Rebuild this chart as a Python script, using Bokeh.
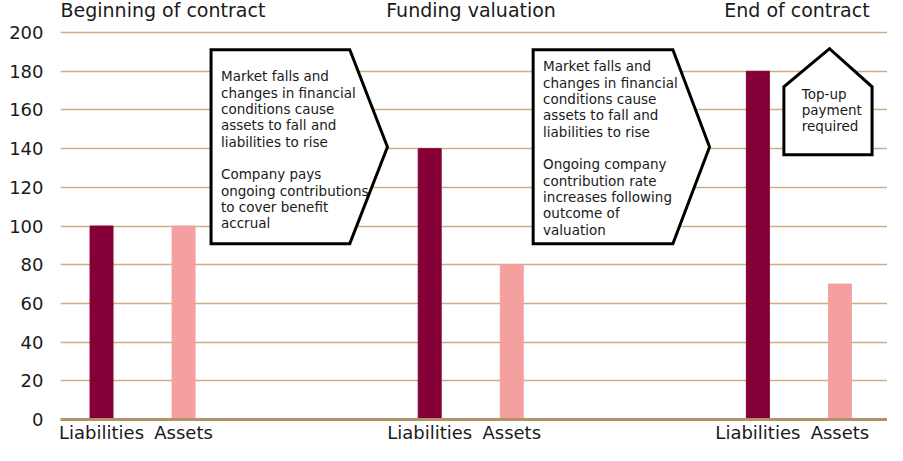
from bokeh.plotting import figure
from bokeh.models import FixedTicker, Range1d
from bokeh.core.properties import value
from bokeh.embed import file_html
from bokeh.resources import INLINE

# ---------------- data ----------------
stages = ["Beginning of contract", "Funding valuation", "End of contract"]
categories = ["Liabilities", "Assets"]
liabilities = [100, 140, 180]
assets = [100, 80, 70]
y_ticks = [0, 20, 40, 60, 80, 100, 120, 140, 160, 180, 200]

note1 = ("Market falls and\nchanges in financial\nconditions cause\nassets to fall and\n"
         "liabilities to rise\n \nCompany pays\nongoing contributions\nto cover benefit\naccrual")
note2 = ("Market falls and\nchanges in financial\nconditions cause\nassets to fall and\n"
         "liabilities to rise\n \nOngoing company\ncontribution rate\nincreases following\n"
         "outcome of\nvaluation")
note3 = "Top-up\npayment\nrequired"

# ---------------- styling / layout ----------------
FONT = "DejaVu Sans"
TEXT = "#1a1a1a"
LIAB_COLOR = "#850038"
ASSET_COLOR = "#F4A0A0"
GRID = "#CDAE80"
AXIS = "#B39266"
group_step = 4
bar_w = 0.28

liab_x = [i * group_step for i in range(len(stages))]
asset_x = [i * group_step + 1 for i in range(len(stages))]

p = figure(width=887, height=445,
           x_range=Range1d(-0.5, 9.58), y_range=Range1d(0, 216.6),
           output_backend="svg", toolbar_location=None,
           min_border_left=60, min_border_right=0,
           min_border_top=0, min_border_bottom=0)
p.outline_line_color = None
p.background_fill_color = "white"

p.vbar(x=liab_x, top=liabilities, width=bar_w, color=LIAB_COLOR)
p.vbar(x=asset_x, top=assets, width=bar_w, color=ASSET_COLOR)

# axes
ticks = sorted(liab_x + asset_x)
p.xaxis.ticker = FixedTicker(ticks=ticks)
p.xaxis.major_label_overrides = {**{x: categories[0] for x in liab_x},
                                 **{x: categories[1] for x in asset_x}}
p.xaxis.major_tick_line_color = None
p.xaxis.major_tick_out = 0
p.xaxis.major_tick_in = 0
p.xaxis.minor_tick_line_color = None
p.xaxis.axis_line_color = AXIS
p.xaxis.axis_line_width = 3
p.xaxis.major_label_standoff = 2
p.xaxis.major_label_text_font = FONT
p.xaxis.major_label_text_font_size = "18px"
p.xaxis.major_label_text_color = TEXT

p.yaxis.ticker = FixedTicker(ticks=y_ticks)
p.yaxis.major_tick_line_color = None
p.yaxis.major_tick_out = 0
p.yaxis.major_tick_in = 0
p.yaxis.minor_tick_line_color = None
p.yaxis.axis_line_color = None
p.yaxis.major_label_standoff = 17
p.yaxis.major_label_text_font = FONT
p.yaxis.major_label_text_font_size = "18px"
p.yaxis.major_label_text_color = TEXT

p.xgrid.grid_line_color = None
p.ygrid.ticker = FixedTicker(ticks=y_ticks[1:])
p.ygrid.grid_line_color = GRID
p.ygrid.grid_line_width = 1.5

# stage headers
header_x = [-0.5, 3.47, 7.59]
p.text(x=header_x, y=[211.5] * 3, text=stages, text_font=value(FONT),
       text_font_size="19px", text_color=TEXT, text_baseline="middle", text_align="left")

# callout shapes
box_ys = [191.2, 191.2, 140.9, 90.9, 90.9]
p.patch([1.335, 3.026, 3.485, 3.026, 1.335], box_ys, fill_color="white",
        line_color="black", line_width=3, line_join="miter")
p.patch([5.261, 6.964, 7.411, 6.964, 5.261], box_ys, fill_color="white",
        line_color="black", line_width=3, line_join="miter")
p.patch([8.317, 8.317, 8.873, 9.392, 9.392], [136.8, 172.0, 191.7, 172.0, 136.8],
        fill_color="white", line_color="black", line_width=3, line_join="miter")

p.text(x=[1.456, 5.382, 8.535], y=[181.5, 186.7, 172.5], text=[note1, note2, note3],
       text_font=value(FONT), text_font_size="13.5px", text_color=TEXT,
       text_baseline="top", text_align="left", text_line_height=1.02)

open("out.html", "w").write(file_html(p, INLINE))
